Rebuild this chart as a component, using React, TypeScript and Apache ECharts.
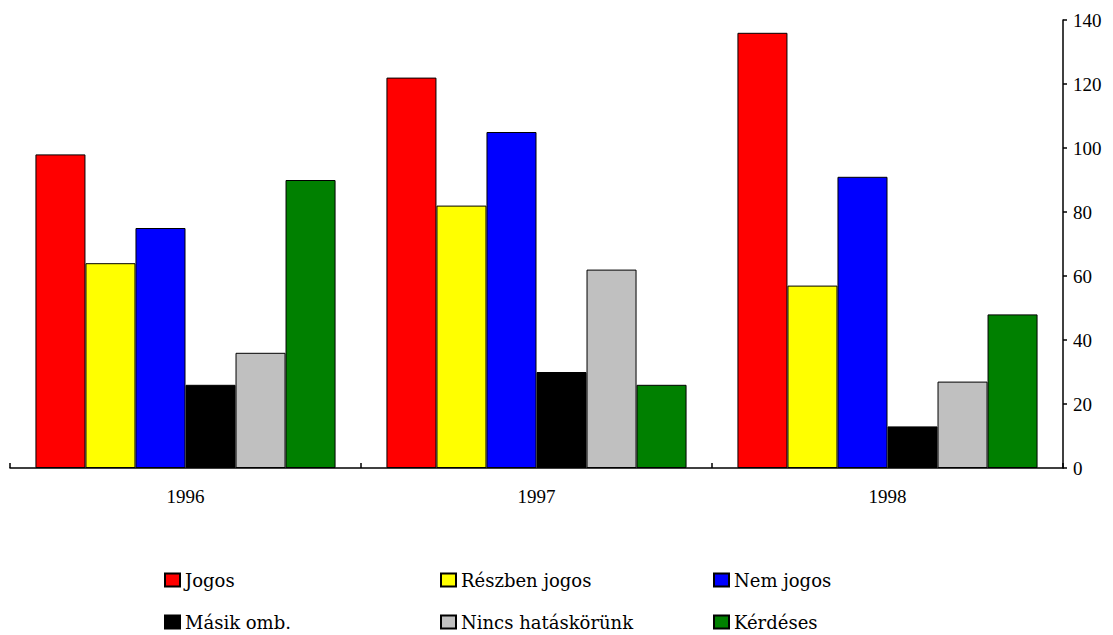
import React, { useEffect, useRef } from "react";
import * as echarts from "echarts";

// Complaints by outcome, per year
const years = ["1996", "1997", "1998"];

const jogos = [98, 122, 136];
const reszbenJogos = [64, 82, 57];
const nemJogos = [75, 105, 91];
const masikOmb = [26, 30, 13];
const nincsHataskorunk = [36, 62, 27];
const kerdeses = [90, 26, 48];

const yTicks = { min: 0, max: 140, interval: 20 };

const seriesDefs = [
  { name: "Jogos", data: jogos, color: "#ff0000" },
  { name: "Részben jogos", data: reszbenJogos, color: "#ffff00" },
  { name: "Nem jogos", data: nemJogos, color: "#0000ff" },
  { name: "Másik omb.", data: masikOmb, color: "#000000" },
  { name: "Nincs hatáskörünk", data: nincsHataskorunk, color: "#c0c0c0" },
  { name: "Kérdéses", data: kerdeses, color: "#008000" },
];

// legend columns (left edge of each column, names top to bottom)
const legendColumns = [
  { left: 164, names: ["Jogos", "Másik omb."] },
  { left: 440, names: ["Részben jogos", "Nincs hatáskörünk"] },
  { left: 713, names: ["Nem jogos", "Kérdéses"] },
];

export default function App() {
  const ref = useRef<HTMLDivElement>(null);

  useEffect(() => {
    if (!ref.current) return;
    const chart = echarts.init(ref.current, null, { renderer: "svg" });

    const legendText = {
      fontFamily: "DejaVu Serif",
      fontSize: 18,
      lineHeight: 18,
      color: "#000",
    };

    const axisFont = {
      color: "#000",
      fontFamily: "Liberation Serif",
      fontSize: 19,
    };

    chart.setOption({
      animation: false,
      backgroundColor: "#ffffff",
      grid: { left: 10, right: 50, top: 20, bottom: 167, containLabel: false },
      legend: legendColumns.map((col) => ({
        data: col.names.map((n) => ({ name: n, icon: "rect" })),
        orient: "vertical",
        left: col.left,
        top: 571,
        itemWidth: 15,
        itemHeight: 13,
        itemGap: 24,
        padding: 0,
        textStyle: legendText,
        selectedMode: false,
      })),
      xAxis: {
        type: "category",
        data: years,
        boundaryGap: true,
        axisLine: { show: true, lineStyle: { color: "#000", width: 1.5 } },
        axisTick: { show: true, inside: true, length: 5, lineStyle: { color: "#000", width: 1.5 } },
        axisLabel: { margin: 19, ...axisFont },
        splitLine: { show: false },
      },
      yAxis: {
        type: "value",
        position: "right",
        min: yTicks.min,
        max: yTicks.max,
        interval: yTicks.interval,
        axisLine: { show: true, lineStyle: { color: "#000", width: 1.5 } },
        axisTick: { show: true, inside: false, length: 4, lineStyle: { color: "#000", width: 1.5 } },
        axisLabel: { margin: 10, ...axisFont },
        splitLine: { show: false },
      },
      series: seriesDefs.map((s) => ({
        type: "bar",
        name: s.name,
        data: s.data,
        barGap: "0%",
        barCategoryGap: "14.5%",
        itemStyle: { color: s.color, borderColor: "#000", borderWidth: 1 },
        emphasis: { disabled: true },
      })),
    });

    return () => chart.dispose();
  }, []);

  return (
    <div
      ref={ref}
      style={{ position: "fixed", left: 0, top: 0, width: 1113, height: 635, background: "#fff" }}
    />
  );
}
